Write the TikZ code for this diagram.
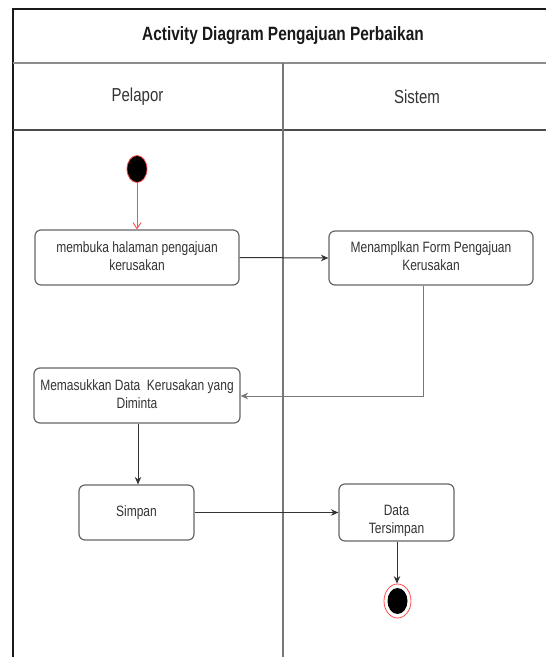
\documentclass[tikz,border=0pt]{standalone}
\usepackage{fontspec}
\setmainfont{Liberation Sans}
\usetikzlibrary{arrows.meta,shapes.geometric}
\definecolor{txtgray}{HTML}{333333}
\definecolor{boxgray}{HTML}{666666}
\definecolor{linegray}{HTML}{777777}
\definecolor{umlred}{HTML}{FF4D4D}
\newcommand\vstretch[1]{\scalebox{1}[1.25]{#1}}
\newcommand\vlines[1]{\scalebox{1}[1.25]{\begin{tabular}{@{}c@{}}#1\end{tabular}}}
\tikzset{
  x=1pt,y=-1pt,
  actbox/.style={draw=boxgray, line width=1.2pt, rounded corners=6pt, fill=white,
    align=center, text=txtgray, font=\fontsize{12}{14.4}\selectfont, inner sep=0pt},
  lbl/.style={align=center, text=txtgray, font=\fontsize{12}{14.4}\selectfont, inner sep=0pt},
  flow/.style={draw=txtgray, line width=1pt, -{Stealth[length=7.5pt,width=6.5pt]}},
  flowgray/.style={draw=linegray, line width=1pt, -{Stealth[length=7.5pt,width=6.5pt]}},
  lane/.style={line width=1.4pt},
}
\begin{document}
\begin{tikzpicture}
\useasboundingbox (0,0) rectangle (546,657);
% frame
\draw[lane, draw=black!90] (13,657) -- (13,9) -- (546,9);
\draw[lane, draw=black!45, line width=2pt] (13,63) -- (546,63);
\draw[lane, draw=black!70, line width=2pt] (13,130) -- (546,130);
\draw[lane, draw=linegray] (283,63) -- (283,657);
% headers
\node[font=\fontsize{15.4}{18}\selectfont\bfseries, text=black!90, inner sep=0pt] (title) at (283,36) {\vstretch{Activity Diagram Pengajuan Perbaikan}};
\node[font=\fontsize{15}{18}\selectfont, text=txtgray, inner sep=0pt] (h1) at (137.5,97) {\vstretch{Pelapor}};
\node[font=\fontsize{15}{18}\selectfont, text=txtgray, inner sep=0pt] (h2) at (417,97) {\vstretch{Sistem}};
% start
\node[ellipse, draw=umlred, fill=black, line width=0.8pt, minimum width=20pt, minimum height=27pt, inner sep=0pt] (start) at (137,169) {};
% boxes
\node[actbox, minimum width=204pt, minimum height=55pt] (b1) at (137,257.5) {\vlines{membuka halaman pengajuan\\kerusakan}};
\node[actbox, minimum width=204pt, minimum height=54pt] (b2) at (431,258) {\vlines{Menamplkan Form Pengajuan\\Kerusakan}};
\node[actbox, minimum width=206pt, minimum height=55pt] (b3) at (137,395.5) {\vlines{Memasukkan Data\ \ Kerusakan yang\\Diminta}};
\node[actbox, minimum width=115pt, minimum height=55pt] (b4) at (136.5,512.5) {\vstretch{Simpan}};
\node[actbox, minimum width=115pt, minimum height=57pt] (b5) at (396.5,512.5) {};
\node[lbl] (b5t) at (396.5,521) {\vlines{Data\\Tersimpan}};
% end
\node[ellipse, draw=umlred, fill=white, line width=0.8pt, minimum width=27pt, minimum height=34pt, inner sep=0pt] (endo) at (397.5,601) {};
\node[ellipse, fill=black, minimum width=20pt, minimum height=26pt, inner sep=0pt] (endi) at (endo.center) {};
% flows
\draw[draw=umlred, line width=0.9pt, -{Straight Barb[length=6pt,width=8pt]}] (start.south) -- (b1.north);
\draw[flow] (b1.east) -- (b2.west);
\draw[flowgray] (b2.south -| 423,0) -- (423,396) -- (b3.east |- 0,396);
\draw[flow] (b3.south -| 138,0) -- (b4.north -| 138,0);
\draw[flow] (b4.east) -- (b5.west);
\draw[flow] (b5.south -| 397,0) -- (endo.north -| 397,0);
\end{tikzpicture}
\end{document}
